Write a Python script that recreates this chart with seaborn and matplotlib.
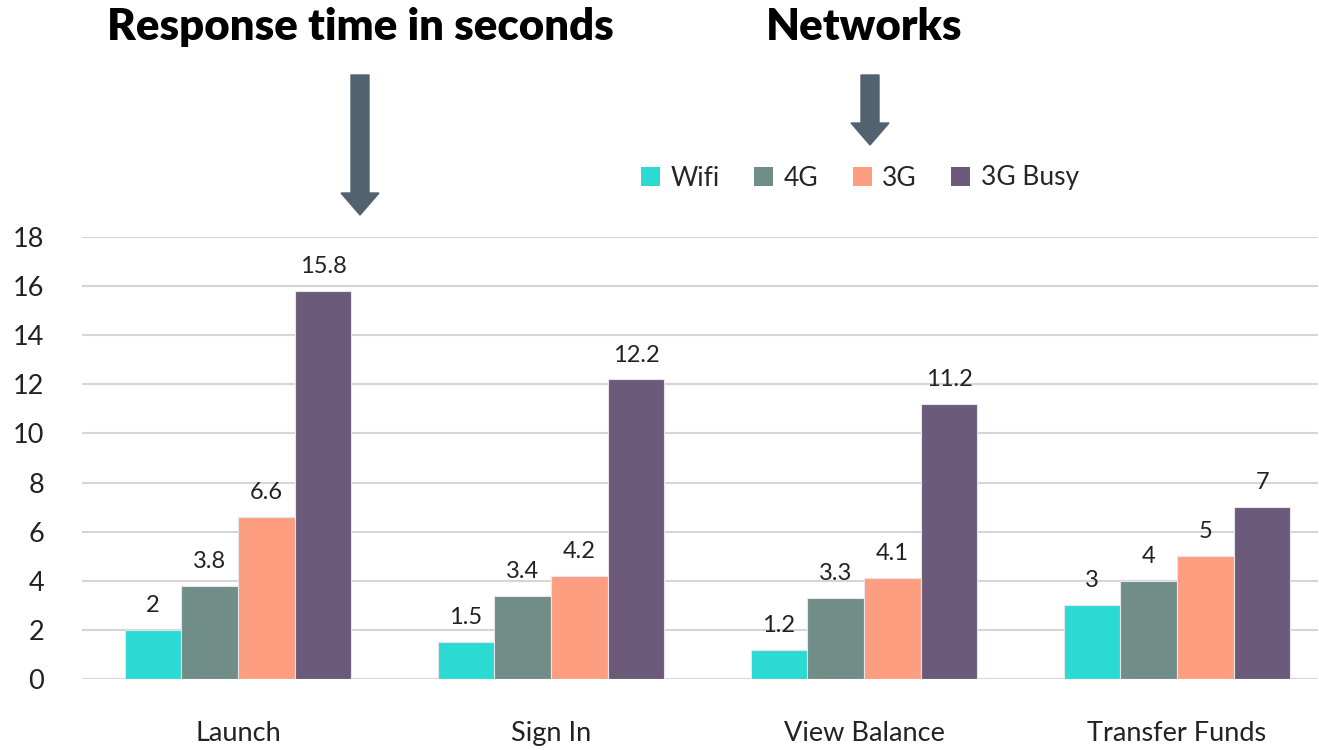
import matplotlib
matplotlib.use("Agg")
import matplotlib.pyplot as plt
import seaborn as sns
import pandas as pd
from matplotlib.patches import FancyArrow

categories = ["Launch", "Sign In", "View Balance", "Transfer Funds"]
networks = ["Wifi", "4G", "3G", "3G Busy"]
wifi = [2, 1.5, 1.2, 3]
g4 = [3.8, 3.4, 3.3, 4]
g3 = [6.6, 4.2, 4.1, 5]
g3_busy = [15.8, 12.2, 11.2, 7]
colors = ["#2CDAD4", "#718D87", "#FE9E80", "#6C5A7B"]
yticks = [0, 2, 4, 6, 8, 10, 12, 14, 16, 18]

rows = []
for name, vals in zip(networks, [wifi, g4, g3, g3_busy]):
    for c, v in zip(categories, vals):
        rows.append({"Action": c, "Network": name, "Seconds": v})
df = pd.DataFrame(rows)

sns.set_theme(style="white")
plt.rcParams["font.family"] = ["Lato", "DejaVu Sans"]

W, H = 1319, 750
spacing = 313.0
left_px, right_px = 81.5, 1318.0
fig = plt.figure(figsize=(W / 100, H / 100), dpi=100)
ax = fig.add_axes([left_px / W, 1 - 679 / H, (right_px - left_px) / W, (679 - 237) / H])

sns.barplot(data=df, x="Action", y="Seconds", hue="Network", order=categories,
            hue_order=networks, palette=colors, saturation=1, width=0.725, ax=ax,
            edgecolor="#E8E4EC", linewidth=0.8, legend=True, zorder=3)

ax.set_ylim(0, 18)
ax.set_xlim(-0.5, -0.5 + (right_px - left_px) / spacing)
ax.set_yticks(yticks)
ax.set_yticklabels([str(t) for t in yticks], fontsize=19.5, color="#222222")
ax.yaxis.grid(True, color="#D6D6D6", linewidth=1.5, zorder=0)
ax.set_axisbelow(True)
ax.tick_params(axis="y", length=0, pad=27)
ax.tick_params(axis="x", length=0, pad=30, labelsize=19.5, labelcolor="#222222")
ax.set_xlabel("")
ax.set_ylabel("")
for s in ax.spines.values():
    s.set_visible(False)

for cont in ax.containers:
    ax.bar_label(cont, labels=[f"{v:g}" for v in cont.datavalues], padding=10,
                 fontsize=17, color="#222222")

ax_w = right_px - left_px
leg = ax.legend(loc="center left",
                bbox_to_anchor=((641 - left_px) / ax_w, (679 - 178) / 442),
                ncol=4, frameon=False, fontsize=19, handlelength=0.72, handleheight=0.72,
                handletextpad=0.4, columnspacing=1.3, borderaxespad=0, borderpad=0)
for h in leg.legend_handles:
    h.set_edgecolor("none")

fig.text(360 / W, 1 - 27 / H, "Response time in seconds", ha="center", va="center",
         fontsize=31.5, fontweight="heavy", color="black")
fig.text(864 / W, 1 - 27 / H, "Networks", ha="center", va="center",
         fontsize=31.5, fontweight="heavy", color="black")

arrow_color = "#52626F"
fig.patches.append(FancyArrow(3.60, 6.75, 0, -1.40, width=0.18, head_width=0.38,
                              head_length=0.22, length_includes_head=True,
                              color=arrow_color, transform=fig.dpi_scale_trans, figure=fig))
fig.patches.append(FancyArrow(8.70, 6.75, 0, -0.70, width=0.18, head_width=0.38,
                              head_length=0.22, length_includes_head=True,
                              color=arrow_color, transform=fig.dpi_scale_trans, figure=fig))

fig.savefig("out.png", dpi=100)
